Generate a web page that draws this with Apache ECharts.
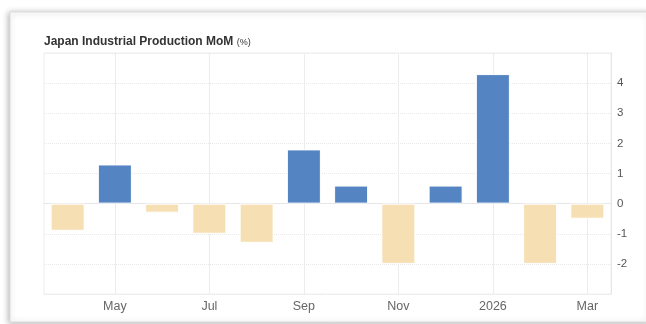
<!DOCTYPE html>
<html>
<head>
<meta charset="utf-8">
<script src="https://cdn.jsdelivr.net/npm/echarts@6/dist/echarts.min.js"></script>
<style>
  html, body { margin: 0; padding: 0; background: #ffffff; }
  #chart { width: 646px; height: 324px; }
</style>
</head>
<body>
<div id="chart"></div>
<script>
// Monthly change in industrial output, April 2025 – March 2026
const months = ['Apr', 'May', 'Jun', 'Jul', 'Aug', 'Sep', 'Oct', 'Nov', 'Dec', 'Jan', 'Feb', 'Mar'];
const monthLabels = ['', 'May', '', 'Jul', '', 'Sep', '', 'Nov', '', '2026', '', 'Mar'];
const momChange = [-0.9, 1.3, -0.3, -1.0, -1.3, 1.8, 0.6, -2.0, 0.6, 4.3, -2.0, -0.5];
const yTicks = [-3, 5, 1]; // min, max, step

const UP = '#5485c2';
const DOWN = '#f6dfb2';
const FONT = 'Liberation Sans, Arial, sans-serif';

const chart = echarts.init(document.getElementById('chart'), null, { renderer: 'canvas' });

chart.setOption({
  animation: false,
  backgroundColor: '#ffffff',
  textStyle: { fontFamily: FONT },
  graphic: [
    {
      type: 'rect',
      z: -10,
      shape: { x: 10, y: 12, width: 640, height: 310 },
      style: {
        fill: '#ffffff',
        stroke: '#dddddd',
        lineWidth: 1,
        shadowBlur: 6,
        shadowColor: 'rgba(0,0,0,0.3)',
        shadowOffsetX: -1,
        shadowOffsetY: 1
      }
    },
    {
      type: 'text',
      left: 44,
      top: 36,
      style: {
        text: '{b|Japan Industrial Production MoM} {s|(%)}',
        rich: {
          b: { fontSize: 12, fontWeight: 'bold', fill: '#333333', fontFamily: FONT },
          s: { fontSize: 9, fill: '#333333', fontFamily: FONT, padding: [2, 0, 0, 0] }
        }
      }
    }
  ],
  grid: {
    left: 44,
    right: 35,
    top: 53,
    bottom: 30,
    show: true,
    borderColor: '#eeeeee',
    borderWidth: 1,
    backgroundColor: 'transparent'
  },
  xAxis: {
    type: 'category',
    data: months,
    boundaryGap: true,
    axisLine: { show: true, lineStyle: { color: '#e6e6e6' } },
    axisTick: { show: false },
    axisLabel: {
      interval: 0,
      color: '#666666',
      fontSize: 12.5,
      margin: 6,
      formatter: (v, i) => monthLabels[i]
    },
    splitLine: {
      show: true,
      alignWithLabel: true,
      interval: (i) => i % 2 === 1,
      lineStyle: { color: '#ececec', width: 1 }
    }
  },
  yAxis: {
    type: 'value',
    position: 'right',
    min: yTicks[0],
    max: yTicks[1],
    interval: yTicks[2],
    axisLine: { show: true, lineStyle: { color: '#e6e6e6' } },
    axisTick: { show: false },
    axisLabel: {
      showMinLabel: false,
      showMaxLabel: false,
      color: '#555555',
      fontSize: 11.5,
      margin: 6
    },
    splitLine: { show: true, lineStyle: { color: '#e8e8e8', type: 'dotted' } }
  },
  series: [
    {
      type: 'bar',
      data: momChange.map(v => ({
        value: v,
        itemStyle: { color: v >= 0 ? UP : DOWN }
      })),
      barCategoryGap: '28%',
      itemStyle: { borderColor: '#ffffff', borderWidth: 1 }
    }
  ]
});
</script>
</body>
</html>
